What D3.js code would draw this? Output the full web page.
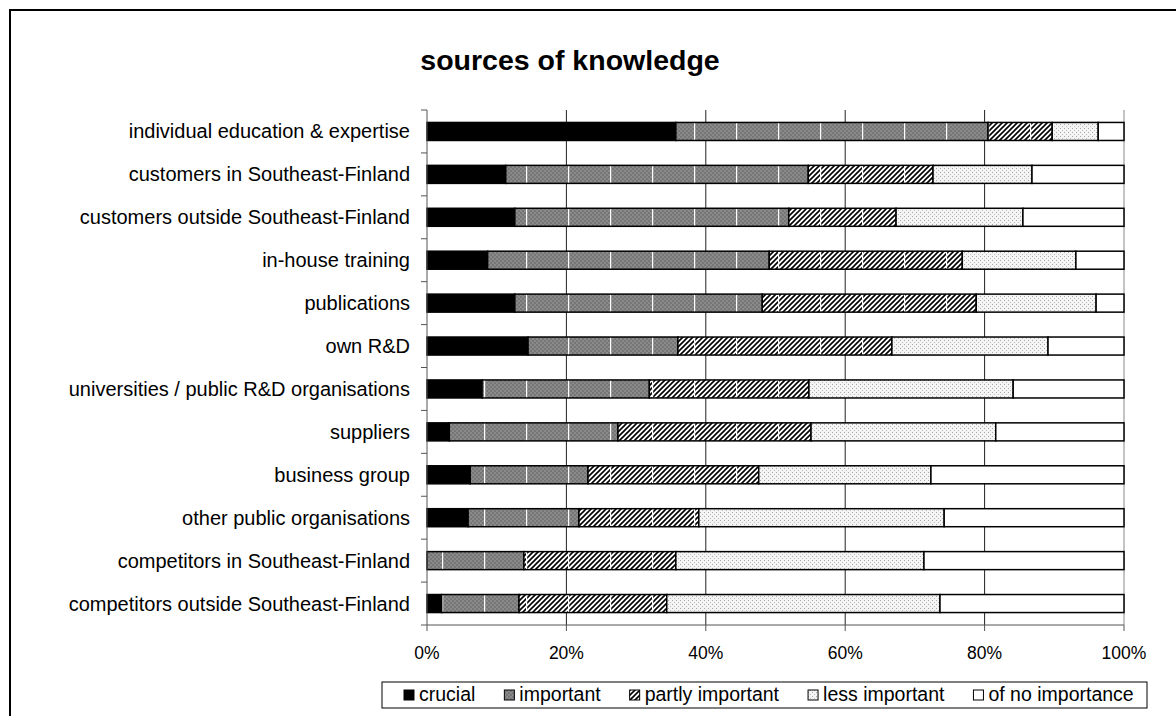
<!DOCTYPE html>
<html>
<head>
<meta charset="utf-8">
<script src="https://cdn.jsdelivr.net/npm/d3@7"></script>
<style>
html,body{margin:0;padding:0;background:#fff;}
text{font-family:"Liberation Sans",Arial,sans-serif;}
</style>
</head>
<body>
<svg id="chart" width="1176" height="716"></svg>
<script>
const title = "sources of knowledge";
const categories = [
  "individual education & expertise",
  "customers in Southeast-Finland",
  "customers outside Southeast-Finland",
  "in-house training",
  "publications",
  "own R&D",
  "universities / public R&D organisations",
  "suppliers",
  "business group",
  "other public organisations",
  "competitors in Southeast-Finland",
  "competitors outside Southeast-Finland"
];
const seriesNames = ["crucial", "important", "partly important", "less important", "of no importance"];
const crucial        = [35.7, 11.3, 12.6,  8.7, 12.6, 14.5,  7.9,  3.2,  6.2,  5.9,  0.0,  2.1];
const important      = [44.8, 43.4, 39.3, 40.4, 35.5, 21.5, 24.0, 24.2, 16.9, 15.9, 13.9, 11.1];
const partlyImportant= [ 9.2, 17.9, 15.4, 27.7, 30.7, 30.7, 22.9, 27.7, 24.5, 17.2, 21.8, 21.2];
const lessImportant  = [ 6.6, 14.2, 18.2, 16.3, 17.2, 22.4, 29.3, 26.5, 24.7, 35.2, 35.6, 39.2];
const noImportance   = [ 3.7, 13.2, 14.5,  6.9,  4.0, 10.9, 15.9, 18.4, 27.7, 25.8, 28.7, 26.4];
const xTicks = [0, 20, 40, 60, 80, 100];
const xTickLabels = ["0%", "20%", "40%", "60%", "80%", "100%"];

const seriesValues = [crucial, important, partlyImportant, lessImportant, noImportance];
const table = categories.map((c, i) => {
  const row = {category: c};
  seriesNames.forEach((s, k) => row[s] = seriesValues[k][i]);
  return row;
});

const svg = d3.select("#chart");
const defs = svg.append("defs");

// patterns
const pImp = defs.append("pattern").attr("id", "pImp").attr("patternUnits", "userSpaceOnUse")
  .attr("width", 4).attr("height", 4);
pImp.append("rect").attr("width", 4).attr("height", 4).attr("fill", "#8a8a8a");
pImp.append("rect").attr("width", 2).attr("height", 2).attr("fill", "#767676");
pImp.append("rect").attr("x", 2).attr("y", 2).attr("width", 2).attr("height", 2).attr("fill", "#767676");

const pPart = defs.append("pattern").attr("id", "pPart").attr("patternUnits", "userSpaceOnUse")
  .attr("width", 5).attr("height", 5);
pPart.append("rect").attr("width", 5).attr("height", 5).attr("fill", "#fff");
pPart.append("path").attr("d", "M-1,6 L6,-1 M-1,1 L1,-1 M4,6 L6,4").attr("stroke", "#000").attr("stroke-width", 1.6);

const pLess = defs.append("pattern").attr("id", "pLess").attr("patternUnits", "userSpaceOnUse")
  .attr("width", 4).attr("height", 4);
pLess.append("rect").attr("width", 4).attr("height", 4).attr("fill", "#f4f4f4");
pLess.append("rect").attr("width", 1).attr("height", 1).attr("fill", "#a8a8a8");
pLess.append("rect").attr("x", 2).attr("y", 2).attr("width", 1).attr("height", 1).attr("fill", "#bdbdbd");

// faint white seams visible in the patterned fills of the original
const pSeam = defs.append("pattern").attr("id", "pSeam").attr("patternUnits", "userSpaceOnUse")
  .attr("x", 22).attr("width", 42).attr("height", 4);
pSeam.append("rect").attr("width", 1.2).attr("height", 4).attr("fill", "#fff");

const fills = ["#000", "url(#pImp)", "url(#pPart)", "url(#pLess)", "#fff"];

// outer frame
svg.append("rect").attr("x", 10).attr("y", 10).attr("width", 1200).attr("height", 760)
  .attr("fill", "none").attr("stroke", "#000").attr("stroke-width", 2);

const plotL = 427, plotR = 1124, plotT = 110, plotB = 625;
const x = d3.scaleLinear().domain([0, 100]).range([plotL, plotR]);
const y = d3.scaleBand().domain(categories).range([plotT, plotB]).paddingInner(0.58).paddingOuter(0.29);

// gridlines
svg.append("g").selectAll("line").data(xTicks.filter(t => t > 0)).join("line")
  .attr("x1", d => x(d)).attr("x2", d => x(d)).attr("y1", plotT).attr("y2", plotB)
  .attr("stroke", d => d === 100 ? "#888" : "#222").attr("stroke-width", 1);

// bars
const stack = d3.stack().keys(seriesNames);
const stacked = stack(table);
const layers = svg.append("g").selectAll("g").data(stacked).join("g");
layers.each(function(layer, i) {
  const g = d3.select(this);
  const segs = layer.filter(s => s[1] - s[0] > 0);
  g.selectAll("rect.fill").data(segs).join("rect").attr("class", "fill")
    .attr("x", d => x(d[0]))
    .attr("width", d => x(d[1]) - x(d[0]))
    .attr("y", d => y(d.data.category))
    .attr("height", y.bandwidth())
    .attr("fill", fills[i]);
  if (i === 1 || i === 2) {
    g.selectAll("rect.seam").data(segs).join("rect").attr("class", "seam")
      .attr("x", d => x(d[0]))
      .attr("width", d => x(d[1]) - x(d[0]))
      .attr("y", d => y(d.data.category))
      .attr("height", y.bandwidth())
      .attr("fill", "url(#pSeam)");
  }
  g.selectAll("rect.edge").data(segs).join("rect").attr("class", "edge")
    .attr("x", d => x(d[0]))
    .attr("width", d => x(d[1]) - x(d[0]))
    .attr("y", d => y(d.data.category))
    .attr("height", y.bandwidth())
    .attr("fill", "none")
    .attr("stroke", "#000").attr("stroke-width", 1.5);
});

// y axis
const yAxisG = svg.append("g");
yAxisG.append("line").attr("x1", plotL).attr("x2", plotL).attr("y1", plotT).attr("y2", plotB)
  .attr("stroke", "#555").attr("stroke-width", 1);
const boundaries = d3.range(categories.length + 1).map(i => plotT + i * y.step());
yAxisG.selectAll("line.tk").data(boundaries).join("line").attr("class", "tk")
  .attr("x1", plotL - 6).attr("x2", plotL).attr("y1", d => d).attr("y2", d => d)
  .attr("stroke", "#555");
yAxisG.selectAll("text").data(categories).join("text")
  .attr("x", 410).attr("y", d => y(d) + y.bandwidth() / 2 + 7)
  .attr("text-anchor", "end")
  .attr("font-size", 20).attr("fill", "#000").text(d => d);

// x axis
const xAxisG = svg.append("g");
xAxisG.append("line").attr("x1", plotL).attr("x2", plotR).attr("y1", plotB).attr("y2", plotB)
  .attr("stroke", "#555");
xAxisG.selectAll("line.tk").data(xTicks).join("line").attr("class", "tk")
  .attr("x1", d => x(d)).attr("x2", d => x(d)).attr("y1", plotB).attr("y2", plotB + 6)
  .attr("stroke", "#555");
xAxisG.selectAll("text").data(xTicks).join("text")
  .attr("x", d => x(d)).attr("y", 659)
  .attr("text-anchor", "middle").attr("font-size", 17.5).attr("fill", "#000")
  .text((d, i) => xTickLabels[i]);

// title
svg.append("text").attr("x", 570).attr("y", 70).attr("text-anchor", "middle")
  .attr("font-size", 28.5).attr("font-weight", "bold").text(title);

// legend
const lg = svg.append("g");
lg.append("rect").attr("x", 382).attr("y", 682).attr("width", 765).attr("height", 26)
  .attr("fill", "#fff").attr("stroke", "#000").attr("stroke-width", 1);
const legendFont = 19.5, legendGap = 29, swatch = 10;
let lx = 404;
seriesNames.forEach((s, i) => {
  lg.append("rect").attr("x", lx).attr("y", 690).attr("width", swatch).attr("height", swatch)
    .attr("fill", fills[i]).attr("stroke", "#000").attr("stroke-width", 1);
  const t = lg.append("text").attr("x", lx + 15).attr("y", 701)
    .attr("font-size", legendFont).attr("fill", "#000").text(s);
  lx += 15 + t.node().getComputedTextLength() + legendGap;
});
</script>
</body>
</html>
